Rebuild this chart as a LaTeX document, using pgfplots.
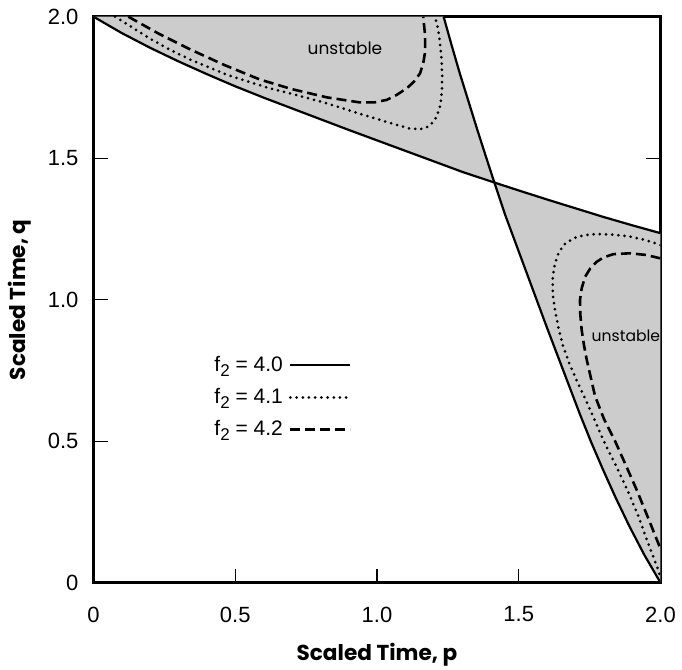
\documentclass[border=0pt]{standalone}
\usepackage{fontspec}
\setmainfont{Liberation Sans}
\newfontfamily\futura{Poppins}
\usepackage{pgfplots}
\pgfplotsset{compat=1.18}
\newcommand{\ftwo}{f\raisebox{-0.45ex}{\fontsize{8.5}{9}\selectfont 2}}

\begin{document}
\begin{tikzpicture}
\begin{axis}[
    scale only axis, width=283.5pt, height=283pt,
    xmin=0, xmax=2, ymin=0, ymax=2,
    xtick={0,0.5,1,1.5,2}, xticklabels={0,0.5,1.0,1.5,2.0},
    ytick={0,0.5,1,1.5,2}, yticklabels={0,0.5,1.0,1.5,2.0},
    tick align=inside, xtick pos=bottom, ytick pos=both, yticklabel pos=left,
    major tick length=7pt,
    tick style={line width=0.6pt, black},
    axis line style={line width=1.3pt},
    xticklabel style={font=\fontsize{11}{13}\selectfont, yshift=-8.5pt},
    yticklabel style={font=\fontsize{11}{13}\selectfont, xshift=-4pt},
    every axis x label/.style={at={(axis description cs:0.5,-0.127)}, anchor=center,
        font=\futura\bfseries\fontsize{10.8}{12}\selectfont},
    every axis y label/.style={at={(axis description cs:-0.13,0.5)}, rotate=90, anchor=center,
        font=\futura\bfseries\fontsize{10.8}{12}\selectfont},
    xlabel={Scaled Time, p},
    ylabel={Scaled Time, q},
    legend plot pos=right,
    legend cell align=left,
    legend image code/.code={\draw[#1] (0pt,0pt) -- (30pt,0pt);},
    legend style={at={(axis cs:0.39,0.83)}, anchor=north west, draw=none, fill=none,
        font=\fontsize{10.5}{12}\selectfont, row sep=3pt,
        /tikz/every odd column/.append style={column sep=1pt}},
]
% shaded unstable regions
\addplot[fill=gray!40, draw=none, forget plot] coordinates {
    (0,2.0) (0.1,1.942) (0.2,1.890) (0.3,1.842) (0.4,1.797) (0.5,1.754) (0.6,1.714)
    (0.7,1.676) (0.8,1.638) (0.9,1.600) (1.0,1.563) (1.1,1.526) (1.2,1.489) (1.3,1.452)
    (1.414,1.414) (1.386,1.5) (1.354,1.6) (1.323,1.7) (1.292,1.8) (1.263,1.9) (1.235,2.0)
} -- cycle;
\addplot[fill=gray!40, draw=none, forget plot] coordinates {
    (1.414,1.414) (1.5,1.386) (1.6,1.354) (1.7,1.323) (1.8,1.292) (1.9,1.263) (2.0,1.235)
    (2.0,0) (1.942,0.1) (1.890,0.2) (1.842,0.3) (1.797,0.4) (1.754,0.5) (1.714,0.6)
    (1.676,0.7) (1.638,0.8) (1.600,0.9) (1.563,1.0) (1.526,1.1) (1.489,1.2) (1.452,1.3)
} -- cycle;

% f2 = 4.0
\addplot[black, line width=1.1pt] coordinates {
    (0,2.0) (0.1,1.942) (0.2,1.890) (0.3,1.842) (0.4,1.797) (0.5,1.754) (0.6,1.714)
    (0.7,1.676) (0.8,1.638) (0.9,1.600) (1.0,1.563) (1.1,1.526) (1.2,1.489) (1.3,1.452)
    (1.414,1.414) (1.5,1.386) (1.6,1.354) (1.7,1.323) (1.8,1.292) (1.9,1.263) (2.0,1.235)
};
\addlegendentry{\ftwo{} = 4.0}

% f2 = 4.1, upper branch
\addplot[black, line width=1.5pt, line cap=round, dash pattern=on 0pt off 3.1pt] coordinates {
    (0.076,2.0) (0.14,1.960) (0.2,1.922) (0.27,1.883) (0.34,1.849) (0.47,1.795)
    (0.611,1.750) (0.72,1.722) (0.823,1.694) (0.94,1.657) (1.058,1.621) (1.11,1.606)
    (1.152,1.602) (1.185,1.613) (1.210,1.645) (1.224,1.69) (1.229,1.74) (1.230,1.79)
    (1.228,1.847) (1.222,1.91) (1.216,1.953) (1.205,2.0)
};
\addlegendentry{\ftwo{} = 4.1}

% f2 = 4.2, upper branch
\addplot[black, line width=1.3pt, dash pattern=on 5pt off 2.5pt] coordinates {
    (0.123,2.0) (0.23,1.940) (0.34,1.885) (0.46,1.830) (0.587,1.778) (0.70,1.744)
    (0.823,1.715) (0.94,1.697) (0.99,1.697) (1.034,1.706) (1.07,1.724) (1.105,1.747)
    (1.13,1.770) (1.152,1.800) (1.163,1.835) (1.169,1.871) (1.170,1.905) (1.169,1.941)
    (1.163,2.0)
};
\addlegendentry{\ftwo{} = 4.2}

% second solid boundary
\addplot[black, line width=1.1pt, forget plot] coordinates {
    (1.235,2.0) (1.263,1.9) (1.292,1.8) (1.323,1.7) (1.354,1.6) (1.386,1.5) (1.414,1.414)
    (1.452,1.3) (1.489,1.2) (1.526,1.1) (1.563,1.0) (1.600,0.9) (1.638,0.8) (1.676,0.7)
    (1.714,0.6) (1.754,0.5) (1.797,0.4) (1.842,0.3) (1.890,0.2) (1.942,0.1) (2.0,0)
};

% f2 = 4.1, lower branch
\addplot[black, line width=1.5pt, line cap=round, dash pattern=on 0pt off 3.1pt, forget plot] coordinates {
    (2.0,1.193) (1.95,1.210) (1.893,1.223) (1.835,1.230) (1.775,1.232) (1.73,1.228)
    (1.693,1.217) (1.660,1.195) (1.640,1.164) (1.627,1.125) (1.620,1.081) (1.620,1.02)
    (1.628,0.964) (1.640,0.90) (1.657,0.834) (1.68,0.77) (1.704,0.716) (1.73,0.66)
    (1.77,0.57) (1.80,0.50) (1.84,0.42) (1.883,0.328) (1.92,0.24) (1.96,0.13)
    (1.992,0.045) (2.0,0.02)
};

% f2 = 4.2, lower branch
\addplot[black, line width=1.3pt, dash pattern=on 5pt off 2.5pt, forget plot] coordinates {
    (2.0,1.146) (1.95,1.158) (1.893,1.164) (1.834,1.161) (1.80,1.150) (1.775,1.134)
    (1.752,1.110) (1.734,1.081) (1.722,1.04) (1.716,0.999) (1.717,0.95) (1.722,0.893)
    (1.730,0.84) (1.740,0.787) (1.769,0.66) (1.80,0.58) (1.84,0.50) (1.88,0.41)
    (1.916,0.328) (1.96,0.22) (2.0,0.12)
};

\node[font=\futura\fontsize{8.5}{10}\selectfont] at (axis cs:0.887,1.887) {unstable};
\node[font=\futura\fontsize{7.8}{10}\selectfont] at (axis cs:1.878,0.871) {unstable};
\end{axis}
\pgfresetboundingbox
\path[use as bounding box] ([xshift=-46.75pt,yshift=-43.65pt]current axis.south west)
    rectangle ([xshift=10.75pt,yshift=8.35pt]current axis.north east);
\end{tikzpicture}
\end{document}
